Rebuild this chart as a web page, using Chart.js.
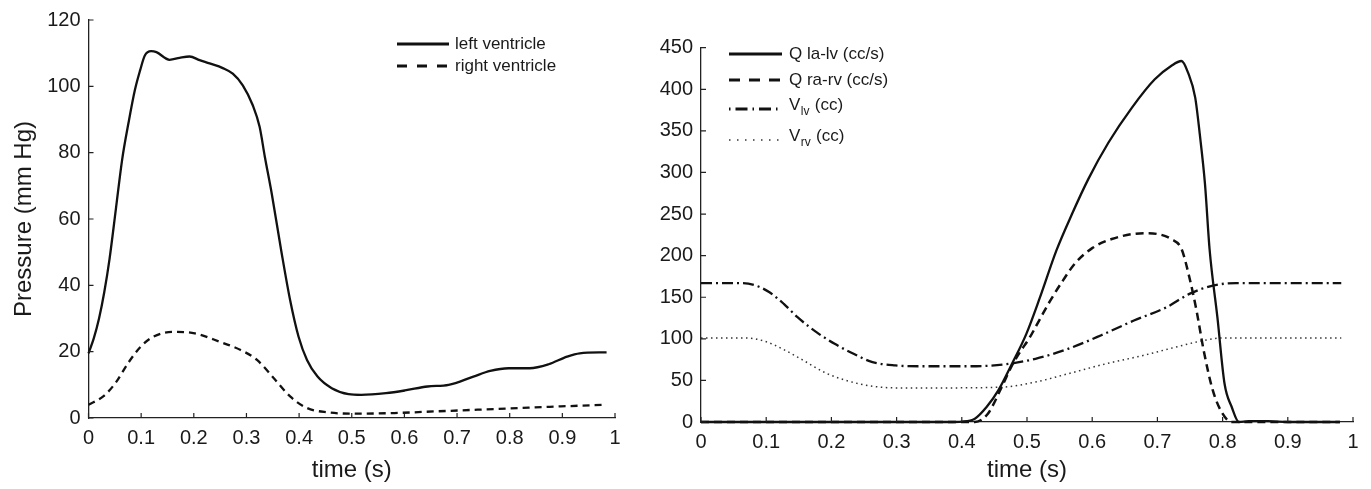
<!DOCTYPE html>
<html>
<head>
<meta charset="utf-8">
<script src="https://cdn.jsdelivr.net/npm/chart.js@4.4.1/dist/chart.umd.min.js"></script>
<style>
html,body{margin:0;padding:0;background:#fff;width:1371px;height:489px;overflow:hidden;}
#c1{position:absolute;left:0;top:0;}
#c2{position:absolute;left:640px;top:0;}
</style>
</head>
<body>
<canvas id="c1" width="640" height="489"></canvas>
<canvas id="c2" width="731" height="489"></canvas>
<script>
// ---------- Left panel: ventricular pressures ----------
const lvTime = [0, 0.01, 0.02, 0.03, 0.04, 0.052, 0.064, 0.076, 0.088, 0.098, 0.107, 0.119, 0.129, 0.154, 0.173, 0.192, 0.211, 0.23, 0.255, 0.274, 0.293, 0.312, 0.325, 0.335, 0.348, 0.366, 0.383, 0.399, 0.415, 0.435, 0.462, 0.494, 0.518, 0.565, 0.601, 0.644, 0.684, 0.731, 0.763, 0.798, 0.838, 0.874, 0.909, 0.933, 0.984];
const lvPressure = [19.5, 24, 30, 38, 48, 63, 78, 89, 98.8, 104.8, 109.3, 110.6, 110.3, 108, 108.6, 109, 107.9, 106.9, 105.5, 103.8, 100.3, 94.3, 87.8, 78.7, 67.7, 50.5, 35.5, 24.5, 17.5, 12.5, 9, 7.2, 7, 7.5, 8.3, 9.5, 10, 12.5, 14.2, 15, 15, 16.2, 18.5, 19.5, 19.8];
const rvTime = [0, 0.028, 0.051, 0.075, 0.099, 0.123, 0.162, 0.202, 0.249, 0.289, 0.32, 0.352, 0.383, 0.415, 0.455, 0.502, 0.581, 0.66, 0.739, 0.818, 0.897, 0.984];
const rvPressure = [4, 6.5, 10.5, 16.5, 21.5, 24.5, 26, 25.5, 23, 20.5, 17.5, 12, 6.5, 3, 1.7, 1.3, 1.5, 2, 2.5, 3, 3.5, 4];
const leftLegendLabels = ['left ventricle', 'right ventricle'];

// ---------- Right panel: flows and volumes ----------
const qlvTime = [0, 0.38, 0.4, 0.42, 0.438, 0.456, 0.477, 0.499, 0.52, 0.545, 0.569, 0.594, 0.625, 0.661, 0.696, 0.721, 0.737, 0.747, 0.758, 0.765, 0.773, 0.78, 0.792, 0.803, 0.814, 0.825, 0.84, 0.87, 0.9, 0.98];
const qlvFlow = [0, 0, 0.5, 4, 18, 38, 70, 106, 150, 206, 250, 292, 336, 378, 412, 428, 434, 420, 390, 346, 286, 208, 126, 46, 18, 0, 1, 1, 0, 0];
const qrvTime = [0, 0.42, 0.44, 0.46, 0.477, 0.49, 0.503, 0.52, 0.535, 0.555, 0.574, 0.6, 0.63, 0.68, 0.70, 0.721, 0.737, 0.749, 0.76, 0.771, 0.785, 0.8, 0.814, 0.98];
const qrvFlow = [0, 0, 10, 40, 68, 85, 100, 124, 145, 170, 191, 209, 220, 227, 226, 220, 208, 174, 134, 86, 38, 10, 0, 0];
const vlvTime = [0, 0.062, 0.084, 0.105, 0.127, 0.148, 0.177, 0.205, 0.234, 0.263, 0.298, 0.334, 0.406, 0.463, 0.513, 0.563, 0.613, 0.664, 0.714, 0.749, 0.785, 0.821, 0.982];
const vlvVolume = [167, 167, 164, 156, 142, 126, 108, 94, 82, 72, 68, 67, 67, 69, 76, 88, 104, 122, 138, 154, 164, 167, 167];
const vrvTime = [0, 0.069, 0.098, 0.127, 0.155, 0.191, 0.227, 0.263, 0.298, 0.37, 0.463, 0.513, 0.563, 0.621, 0.678, 0.728, 0.771, 0.8, 0.982];
const vrvVolume = [101, 101, 97, 87, 75, 59, 49, 43, 41, 41, 42, 48, 58, 70, 80, 90, 98, 101, 101];
// legend entries: [main text, subscript, trailing text]
const rightLegendLabels = [['Q la-lv (cc/s)', '', ''], ['Q ra-rv (cc/s)', '', ''], ['V', 'lv', ' (cc)'], ['V', 'rv', ' (cc)']];

// ---------- Axis settings ----------
const timeTicks = [0, 0.1, 0.2, 0.3, 0.4, 0.5, 0.6, 0.7, 0.8, 0.9, 1];
const pressureRange = [0, 120, 20];
const flowRange = [0, 450, 50];

const FONT = '"Liberation Sans", Arial, Helvetica, sans-serif';
Chart.defaults.font.family = FONT;
Chart.defaults.color = '#1a1a1a';

const pts = (xs, ys) => xs.map((x, i) => ({x: x, y: ys[i]}));

const inwardTicks = {
  id: 'inwardTicks',
  afterDraw(chart) {
    const ctx = chart.ctx, xs = chart.scales.x, ys = chart.scales.y;
    ctx.save();
    ctx.strokeStyle = '#222';
    ctx.lineWidth = 1.2;
    ctx.setLineDash([]);
    ctx.beginPath();
    xs.ticks.forEach(t => { const p = xs.getPixelForValue(t.value); ctx.moveTo(p, ys.bottom); ctx.lineTo(p, ys.bottom - 5); });
    ys.ticks.forEach(t => { const p = ys.getPixelForValue(t.value); ctx.moveTo(xs.left, p); ctx.lineTo(xs.left + 5, p); });
    ctx.stroke();
    ctx.restore();
  }
};

const customLegend = {
  id: 'customLegend',
  afterDraw(chart, args, opts) {
    const ctx = chart.ctx;
    ctx.save();
    opts.items.forEach((item, i) => {
      const ds = chart.data.datasets[i];
      ctx.strokeStyle = ds.borderColor;
      ctx.lineWidth = item.lw || ds.borderWidth;
      ctx.setLineDash(item.dash || []);
      ctx.lineCap = 'butt';
      ctx.beginPath();
      ctx.moveTo(opts.x0, item.y);
      ctx.lineTo(opts.x1, item.y);
      ctx.stroke();
      ctx.setLineDash([]);
      ctx.fillStyle = '#1a1a1a';
      ctx.textAlign = 'left';
      ctx.textBaseline = 'middle';
      const parts = item.text;
      const ty = item.y + (item.dy || 0);
      ctx.font = opts.size + 'px ' + FONT;
      let x = opts.tx;
      ctx.fillText(parts[0], x, ty);
      x += ctx.measureText(parts[0]).width;
      if (parts[1]) {
        ctx.font = Math.round(opts.size * 0.72) + 'px ' + FONT;
        ctx.fillText(parts[1], x + 0.5, ty + 7);
        x += ctx.measureText(parts[1]).width + 1;
        ctx.font = opts.size + 'px ' + FONT;
      }
      if (parts[2]) ctx.fillText(parts[2], x, ty);
    });
    ctx.restore();
  }
};

function fmtTime(v) { return String(Number(Number(v).toFixed(1))); }

function makeOptions(yRange, area, canvasW, yTitle, legend) {
  return {
    responsive: false,
    animation: false,
    devicePixelRatio: 1,
    layout: { padding: { top: area.top, right: canvasW - area.right, left: 0, bottom: 0 } },
    plugins: { legend: { display: false }, tooltip: { enabled: false }, customLegend: legend },
    elements: { point: { radius: 0 } },
    scales: {
      x: {
        type: 'linear', min: 0, max: 1,
        afterBuildTicks: s => { s.ticks = timeTicks.map(v => ({value: v})); },
        afterFit: s => { s.height = 489 - area.bottom; },
        grid: { display: true, drawOnChartArea: false, drawTicks: false },
        border: { display: true, color: '#222', width: 1.3 },
        ticks: { padding: 8, font: { size: 20 }, color: '#1a1a1a', maxRotation: 0, autoSkip: false, callback: v => fmtTime(v) },
        title: { display: true, text: 'time (s)', font: { size: 24 }, color: '#1a1a1a', padding: { top: 0, bottom: 4 } }
      },
      y: {
        type: 'linear', min: yRange[0], max: yRange[1],
        ticks: { stepSize: yRange[2], padding: 8, font: { size: 20 }, color: '#1a1a1a' },
        afterFit: s => { s.width = area.left; },
        grid: { display: true, drawOnChartArea: false, drawTicks: false },
        border: { display: true, color: '#222', width: 1.3 },
        title: yTitle ? { display: true, text: yTitle, font: { size: 24 }, color: '#1a1a1a', padding: { top: 10, bottom: 0 } } : { display: false }
      }
    }
  };
}

new Chart(document.getElementById('c1'), {
  type: 'scatter',
  data: {
    datasets: [
      { label: leftLegendLabels[0], data: pts(lvTime, lvPressure), showLine: true, borderColor: '#111', borderWidth: 2.3, cubicInterpolationMode: 'monotone', clip: 6 },
      { label: leftLegendLabels[1], data: pts(rvTime, rvPressure), showLine: true, borderColor: '#111', borderWidth: 2.3, borderDash: [7, 5], cubicInterpolationMode: 'monotone', clip: 6 }
    ]
  },
  options: makeOptions(pressureRange, { left: 88.5, right: 615, top: 19.5, bottom: 418 }, 640, 'Pressure (mm Hg)', {
    x0: 397, x1: 449, tx: 455, size: 17,
    items: [
      { y: 44, text: [leftLegendLabels[0], '', ''], lw: 3 },
      { y: 66, text: [leftLegendLabels[1], '', ''], lw: 3, dash: [10, 10] }
    ]
  }),
  plugins: [inwardTicks, customLegend]
});

new Chart(document.getElementById('c2'), {
  type: 'scatter',
  data: {
    datasets: [
      { label: 'Q la-lv (cc/s)', data: pts(qlvTime, qlvFlow), showLine: true, borderColor: '#111', borderWidth: 2.3, cubicInterpolationMode: 'monotone', clip: 6 },
      { label: 'Q ra-rv (cc/s)', data: pts(qrvTime, qrvFlow), showLine: true, borderColor: '#111', borderWidth: 2.5, borderDash: [8, 5], cubicInterpolationMode: 'monotone', clip: 6 },
      { label: 'Vlv (cc)', data: pts(vlvTime, vlvVolume), showLine: true, borderColor: '#111', borderWidth: 2.3, borderDash: [11, 4, 2, 4], cubicInterpolationMode: 'monotone', clip: 6 },
      { label: 'Vrv (cc)', data: pts(vrvTime, vrvVolume), showLine: true, borderColor: '#333', borderWidth: 1.5, borderDash: [1.5, 3.5], cubicInterpolationMode: 'monotone', clip: 6 }
    ]
  },
  options: makeOptions(flowRange, { left: 61, right: 713, top: 47.7, bottom: 422 }, 731, null, {
    x0: 89, x1: 142, tx: 149, size: 17,
    items: [
      { y: 54, text: rightLegendLabels[0], lw: 3 },
      { y: 80, text: rightLegendLabels[1], lw: 3, dash: [11, 9] },
      { y: 109, text: rightLegendLabels[2], lw: 3, dash: [1.5, 5, 12, 5], dy: -4 },
      { y: 140, text: rightLegendLabels[3], lw: 1.5, dash: [1.5, 6.5], dy: -4 }
    ]
  }),
  plugins: [inwardTicks, customLegend]
});
</script>
</body>
</html>
